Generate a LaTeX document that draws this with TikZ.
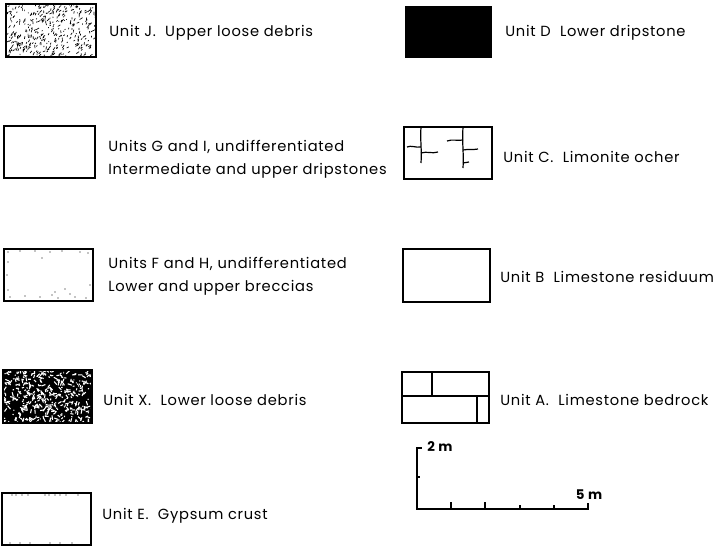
\documentclass[tikz,border=0pt]{standalone}
\usepackage{fontspec}
\setmainfont{Poppins}[LetterSpace=5]
\begin{document}
\begin{tikzpicture}[x=0.75pt,y=-0.75pt,
  unitbox/.style={draw=black,line width=1.1pt},
  lbl/.style={anchor=west,inner sep=0pt,font=\fontsize{11}{13}\selectfont},
  lbltwo/.style={anchor=west,inner sep=0pt,align=left,font=\fontsize{11}{17.5}\selectfont},
  crack/.style={line width=0.9pt},
  scalebar/.style={line width=1.1pt},
  scalelbl/.style={inner sep=0pt,font=\fontsize{10}{12}\bfseries\selectfont}]
\useasboundingbox (0,0) rectangle (718,546);
\pgfmathsetseed{7}
% ---------------- Unit J: stippled dashes
\begin{scope}
\clip (6,4) rectangle (96,57);
\foreach \i in {1,...,380}{
  \pgfmathsetmacro\px{6+90*rnd}
  \pgfmathsetmacro\py{4+53*rnd}
  \pgfmathsetmacro\ang{20+80*rnd}
  \pgfmathsetmacro\len{0.8+2.6*rnd}
  \draw[line width=0.5pt] (\px,\py) -- ++({\len*cos(\ang)},{-\len*sin(\ang)});
}
\end{scope}
\draw[unitbox] (6,4) rectangle (96,57);
\node[lbl] (tJ) at (109,33) {Unit J.\ \ Upper loose debris};
% ---------------- Units G and I
\draw[unitbox] (4,126) rectangle (95,178);
\node[lbltwo] (tGI) at (108,159) {Units G and I, undifferentiated\\Intermediate and upper dripstones};
% ---------------- Units F and H
\draw[unitbox] (4,249) rectangle (93,301);
\foreach \px/\py in {8/252,20/251,35/251,50/252,62/251,80/252,88/253,8/262,7/275,8/290,10/297,25/296,40/297,52/295,58/298,70/294,75/297,86/298,90/285,42/258,55/292,65/289}{
  \fill (\px,\py) circle (0.6);
}
\node[lbltwo] (tFH) at (108,276) {Units F and H, undifferentiated\\Lower and upper breccias};
% ---------------- Unit X: black with white specks
\fill[black] (3,370) rectangle (92,423);
\begin{scope}
\clip (3,370) rectangle (92,423);
\foreach \i in {1,...,420}{
  \pgfmathsetmacro\px{3+89*rnd}
  \pgfmathsetmacro\py{370+53*rnd}
  \pgfmathsetmacro\ang{360*rnd}
  \pgfmathsetmacro\len{1+3.5*rnd}
  \draw[white,line width=0.8pt] (\px,\py) -- ++({\len*cos(\ang)},{-\len*sin(\ang)});
}
\end{scope}
\draw[unitbox] (3,370) rectangle (92,423);
\node[lbl] (tX) at (103,400) {Unit X.\ \ Lower loose debris};
% ---------------- Unit E
\draw[unitbox] (2,493) rectangle (91,545);
\foreach \px in {12,16,22,28,45,49,55,60,66,78}{\fill (\px,495) circle (0.6);}
\foreach \px in {10,20,30,50,60,72}{\fill (\px,543) circle (0.6);}
\node[lbl] (tE) at (102,516) {Unit E.\ \ Gypsum crust};
% ---------------- Unit D
\fill[black] (405,6) rectangle (492,58);
\node[lbl] (tD) at (505,33) {Unit D\ \ Lower dripstone};
% ---------------- Unit C
\draw[unitbox] (404,127) rectangle (492,179);
\draw[crack] (421,127) .. controls (420,140) and (422,150) .. (421,163);
\draw[crack] (407,147) .. controls (411,145) and (416,148) .. (421,147);
\draw[crack] (421,153) .. controls (427,151) and (432,154) .. (438,152);
\draw[crack] (463,127) .. controls (462,145) and (464,155) .. (463,168);
\draw[crack] (447,141) .. controls (452,139) and (458,141) .. (463,140);
\draw[crack] (463,150) .. controls (468,149) and (473,150) .. (478,149);
\draw[crack] (463,163) -- (469,162);
\node[lbl] (tC) at (503,157) {Unit C.\ \ Limonite ocher};
% ---------------- Unit B
\draw[unitbox] (403,249) rectangle (490,302);
\node[lbl] (tB) at (500,277) {Unit B\ \ Limestone residuum};
% ---------------- Unit A
\draw[unitbox] (402,372) rectangle (489,423);
\draw[unitbox] (402,396) -- (489,396);
\draw[unitbox] (432,372) -- (432,396);
\draw[unitbox] (477,396) -- (477,423);
\node[lbl] (tA) at (500,400) {Unit A.\ \ Limestone bedrock};
% ---------------- scale bar
\coordinate (sTop) at (417,448);
\coordinate (sOrig) at (417,509);
\coordinate (sEnd) at (588,509);
\draw[scalebar] ([xshift=3.5pt]sTop) -- (sTop) -- (sOrig) -- (sEnd) -- ++(0,-6);
\draw[scalebar] (417,477) -- (420,477);
\draw[scalebar] (451,509) -- (451,502);
\draw[scalebar] (485,509) -- (485,502);
\draw[scalebar] (520,509) -- (520,505);
\draw[scalebar] (554,509) -- (554,505);
\node[scalelbl,anchor=west] (s2) at (427,447) {2 m};
\node[scalelbl] (s5) at (589,495) {5 m};
\end{tikzpicture}
\end{document}
